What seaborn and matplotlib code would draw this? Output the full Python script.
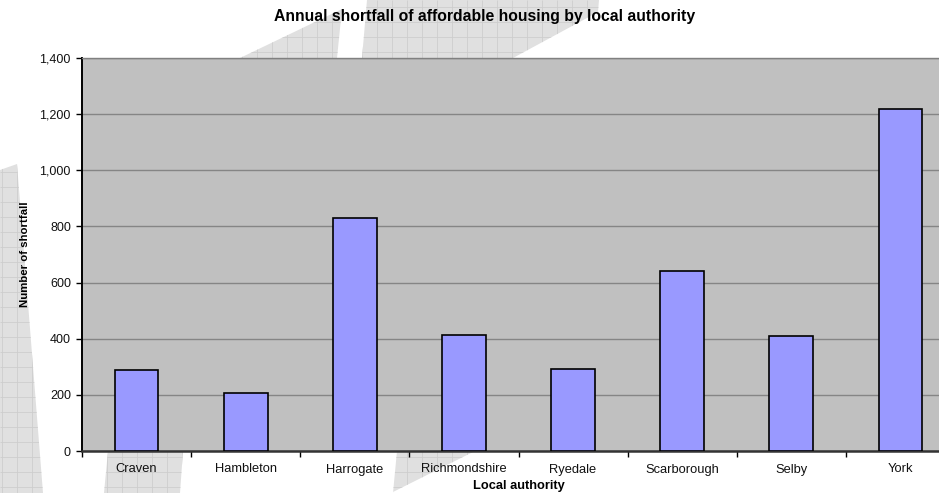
import numpy as np
import pandas as pd
import matplotlib
matplotlib.use("Agg")
import matplotlib.pyplot as plt
import seaborn as sns
from matplotlib.patches import Polygon

# Annual shortfall of affordable housing, by local authority
authorities = ["Craven", "Hambleton", "Harrogate", "Richmondshire",
               "Ryedale", "Scarborough", "Selby", "York"]
shortfall = [288, 205, 831, 414, 293, 640, 408, 1218]
y_ticks = [0, 200, 400, 600, 800, 1000, 1200, 1400]

W, H = 939, 493
sns.set_theme(style="white")
plt.rcParams['font.family'] = ['Liberation Sans', 'DejaVu Sans']

fig = plt.figure(figsize=(W / 100, H / 100), dpi=100)
fig.patch.set_facecolor('white')

# Decorative graph-paper backdrop, laid out in pixel units
bg = fig.add_axes([0, 0, 1, 1], zorder=0)
bg.set_xlim(0, W)
bg.set_ylim(H, 0)
bg.axis('off')
backdrop = [
    [(0, 170), (17, 164), (43, 493), (0, 493)],
    [(108, 451), (183, 451), (180, 493), (104, 493)],
    [(397, 451), (475, 451), (393, 492), (393, 493)],
    [(240, 58), (342, 9), (337, 58)],
    [(362, 58), (367, 0), (599, 0), (598, 12), (513, 58)],
]
for pts in backdrop:
    poly = Polygon(pts, closed=True, facecolor='#e0e0e0', edgecolor='none')
    bg.add_patch(poly)
    vl = bg.vlines(np.arange(2, W, 15), 0, H, color='#cdcdcd', lw=0.6)
    hl = bg.hlines(np.arange(7, H, 15), 0, W, color='#cdcdcd', lw=0.6)
    vl.set_clip_path(poly)
    hl.set_clip_path(poly)

# Main chart
ax = fig.add_axes([82 / W, 42 / H, 873 / W, 393 / H], zorder=1)
df = pd.DataFrame({"authority": authorities, "shortfall": shortfall})
sns.barplot(data=df, x="authority", y="shortfall", ax=ax, color='#9999ff',
            saturation=1, width=0.4, edgecolor='black', linewidth=1.2, zorder=3)
ax.set_facecolor('#c0c0c0')
ax.set_xlim(-0.5, len(authorities) - 0.5)
ax.set_ylim(0, 1400)
ax.set_yticks(y_ticks)
ax.set_yticklabels([f"{v:,}" for v in y_ticks])
ax.yaxis.grid(True, color='#858585', lw=1.0)
ax.set_axisbelow(True)
ax.set_xlabel('')
ax.set_ylabel('')

for side in ['top', 'right']:
    ax.spines[side].set_color('#808080')
    ax.spines[side].set_linewidth(1.0)
ax.spines['left'].set_color('black')
ax.spines['left'].set_linewidth(1.4)
ax.spines['bottom'].set_color('#333333')
ax.spines['bottom'].set_linewidth(1.8)

ax.tick_params(axis='y', which='major', left=True, length=4, width=1,
               direction='out', color='black', labelsize=9, pad=4,
               labelcolor='#111111')
ax.tick_params(axis='x', which='major', bottom=True, length=0, labelsize=9.3,
               pad=9, labelcolor='#111111')
ax.set_xticks(np.arange(-0.5, len(authorities), 1), minor=True)
ax.tick_params(axis='x', which='minor', bottom=True, length=4, width=1,
               direction='out', color='black')

fig.text(484.5 / W, 1 - 17 / H, "Annual shortfall of affordable housing by local authority",
         ha='center', va='center', fontsize=11.3, fontweight='bold', color='black')
fig.text(25 / W, 1 - 254.5 / H, "Number of shortfall", rotation=90,
         ha='center', va='center', fontsize=8.2, fontweight='bold', color='black')
fig.text(518.5 / W, 1 - 486 / H, "Local authority",
         ha='center', va='center', fontsize=9.3, fontweight='bold', color='black')

fig.savefig("out.png", dpi=100, facecolor='white')
